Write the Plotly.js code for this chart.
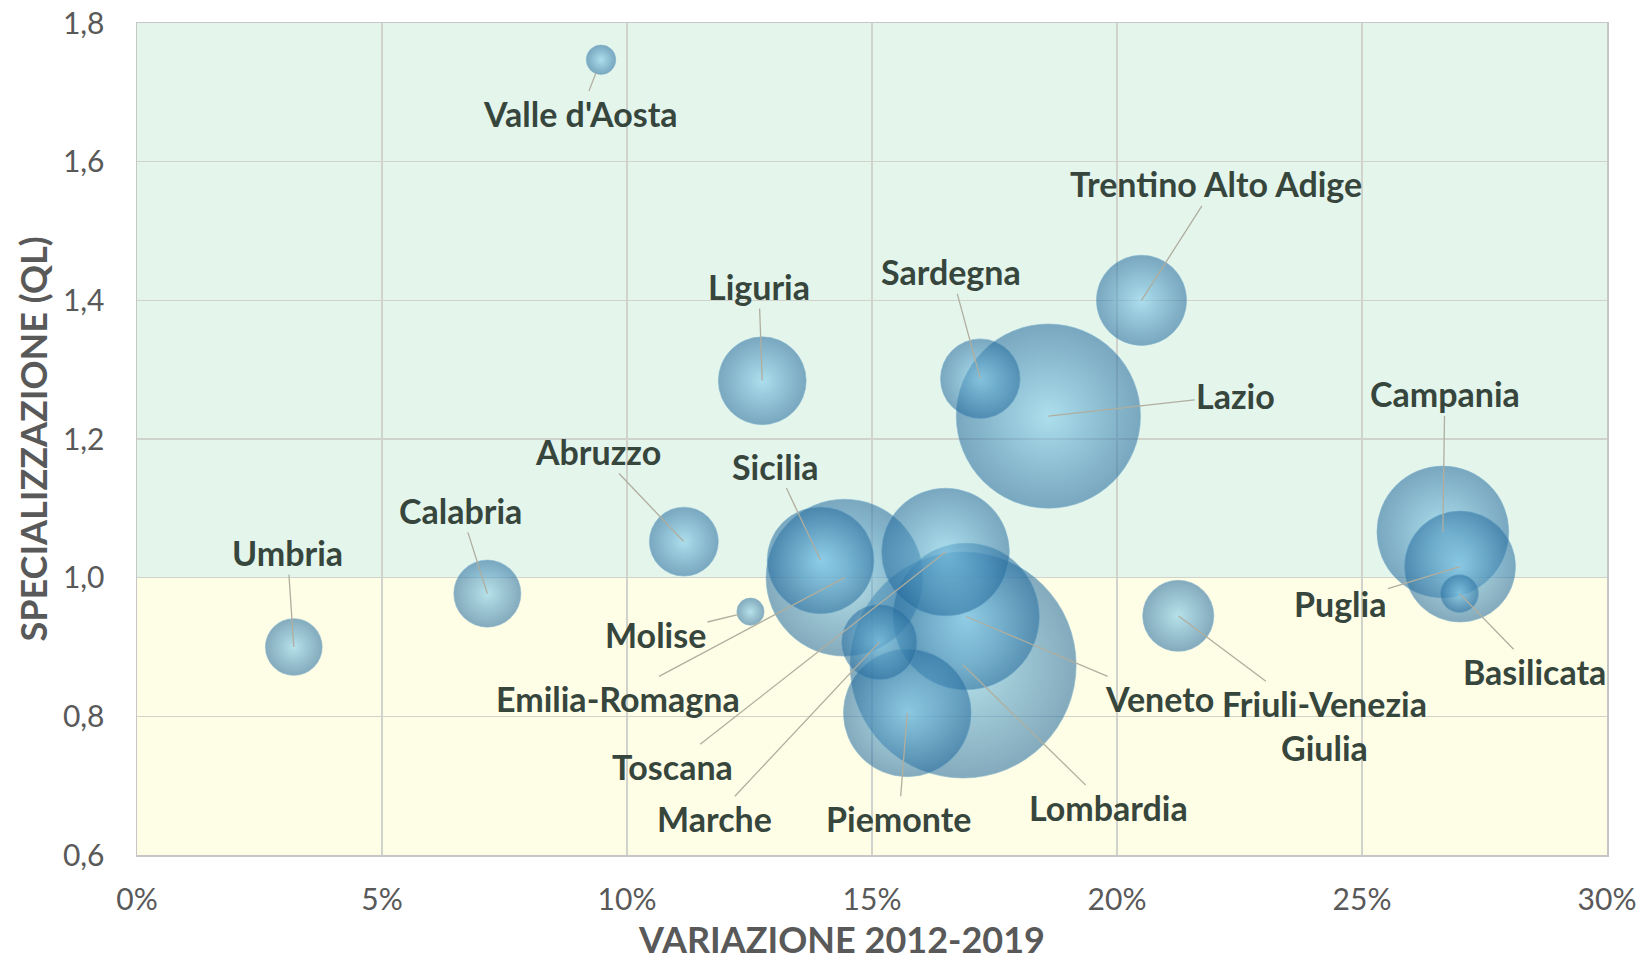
<!DOCTYPE html>
<html>
<head>
<meta charset="utf-8">
<script src="https://cdn.plot.ly/plotly-3.0.1.min.js"></script>
<style>
  html, body { margin: 0; padding: 0; background: #ffffff; }
  #chart { width: 1639px; height: 967px; }
</style>
</head>
<body>
<div id="chart"></div>
<script>
// ---- Data ----
const regions = ["Valle d'Aosta", "Umbria", "Calabria", "Abruzzo", "Molise", "Liguria", "Sicilia",
  "Emilia-Romagna", "Toscana", "Marche", "Piemonte", "Veneto", "Lombardia", "Lazio",
  "Sardegna", "Trentino Alto Adige", "Friuli-Venezia<br>Giulia", "Campania", "Puglia", "Basilicata"];
// variazione 2012-2019 (%)
const variazione = [9.47, 3.2, 7.15, 11.16, 12.52, 12.76, 13.95,
  14.44, 16.5, 15.15, 15.72, 16.92, 16.86, 18.6,
  17.21, 20.5, 21.25, 26.65, 27.0, 26.99];
// specializzazione (QL)
const specializzazione = [1.747, 0.90, 0.977, 1.052, 0.951, 1.284, 1.025,
  1.00, 1.037, 0.907, 0.805, 0.944, 0.874, 1.233,
  1.287, 1.40, 0.945, 1.066, 1.016, 0.977];
// bubble size (relative, Lombardia = 100)
const dimensione = [1.7, 6.3, 8.8, 9.3, 1.45, 15.1, 22.3,
  48.2, 31.9, 11.1, 31.9, 42.0, 100, 66.4,
  12.4, 15.9, 9.9, 34.0, 24.1, 2.8];
// label positions (data coordinates of the label centre)
const labelX = [9.05, 3.07, 6.61, 9.41, 10.58, 12.69, 13.04,
  9.81, 10.92, 11.78, 15.55, 20.87, 19.82, 22.42,
  16.62, 22.02, 24.24, 26.69, 24.56, 28.53];
const labelY = [1.670, 1.036, 1.097, 1.182, 0.918, 1.420, 1.161,
  0.826, 0.728, 0.653, 0.653, 0.826, 0.669, 1.263,
  1.441, 1.568, 0.787, 1.265, 0.963, 0.865];
const xTicks = [0, 5, 10, 15, 20, 25, 30];
const xTickText = ['0%', '5%', '10%', '15%', '20%', '25%', '30%'];
const yTicks = [0.6, 0.8, 1.0, 1.2, 1.4, 1.6, 1.8];
const xTitle = 'VARIAZIONE 2012-2019';
const yTitle = 'SPECIALIZZAZIONE (QL)';

// draw largest bubbles first so small ones sit on top
const order = dimensione.map((v, i) => i).sort((a, b) => dimensione[b] - dimensione[a]);

const trace = {
  type: 'scatter',
  mode: 'markers',
  x: order.map(i => variazione[i]),
  y: order.map(i => specializzazione[i]),
  text: order.map(i => regions[i]),
  hoverinfo: 'text',
  marker: {
    size: order.map(i => dimensione[i]),
    sizemode: 'area',
    sizeref: 2 * 100 / (226 * 226),
    color: 'rgba(38,108,158,0.80)',
    gradient: { type: 'radial', color: 'rgba(135,208,238,0.85)' },
    line: { width: 1, color: 'rgba(90,155,195,0.6)' }
  },
  showlegend: false
};

const annotations = regions.map((r, i) => ({
  x: variazione[i], y: specializzazione[i],
  xref: 'x', yref: 'y',
  ax: labelX[i], ay: labelY[i],
  axref: 'x', ayref: 'y',
  text: r,
  showarrow: true,
  arrowhead: 0,
  arrowwidth: 1.3,
  arrowcolor: '#b0ae9e',
  standoff: (i === 0 ? 14 : (i === 4 ? 12 : 0)),
  font: { family: 'Lato, "Open Sans", sans-serif', size: 34, color: '#37463c', weight: 'bold' },
  align: 'center'
}));

annotations.push({
  xref: 'paper', yref: 'paper',
  x: 0.479, y: -0.13, yanchor: 'bottom', xanchor: 'center',
  text: xTitle, showarrow: false,
  font: { family: 'Lato, "Open Sans", sans-serif', size: 36, color: '#595959', weight: 'bold' }
});

const layout = {
  width: 1639, height: 967,
  margin: { l: 137, r: 32, t: 23, b: 112 },
  paper_bgcolor: '#ffffff',
  plot_bgcolor: '#ffffff',
  separators: ',.',
  showlegend: false,
  font: { family: 'Lato, "Open Sans", sans-serif', color: '#595959' },
  xaxis: {
    range: [0, 30],
    tickmode: 'array',
    tickvals: xTicks,
    ticktext: xTickText,
    showgrid: true, gridcolor: '#cfd3cc', gridwidth: 1.2,
    zeroline: false,
    showline: true, mirror: true, linecolor: '#c6c6c6', linewidth: 1.5,
    ticks: '',
    ticklabelstandoff: 17,
    tickfont: { size: 30, color: '#595959' },
    automargin: false,
    fixedrange: true
  },
  yaxis: {
    range: [0.6, 1.8],
    tickvals: yTicks,
    tickformat: '.1f',
    showgrid: true, gridcolor: '#cfd3cc', gridwidth: 1.2,
    zeroline: false,
    showline: true, mirror: true, linecolor: '#c6c6c6', linewidth: 1.5,
    ticks: '',
    ticklabelstandoff: 25,
    tickfont: { size: 30, color: '#595959' },
    title: { text: yTitle, font: { size: 36, color: '#595959', weight: 'bold' }, standoff: 4 },
    automargin: false,
    fixedrange: true
  },
  shapes: [
    { type: 'rect', xref: 'paper', yref: 'y', x0: 0, x1: 1, y0: 1.0, y1: 1.8,
      fillcolor: '#e4f5ec', line: { width: 0 }, layer: 'below' },
    { type: 'rect', xref: 'paper', yref: 'y', x0: 0, x1: 1, y0: 0.6, y1: 1.0,
      fillcolor: '#fefde6', line: { width: 0 }, layer: 'below' }
  ],
  annotations: annotations
};

Plotly.newPlot('chart', [trace], layout, { displayModeBar: false, staticPlot: true });
</script>
</body>
</html>
